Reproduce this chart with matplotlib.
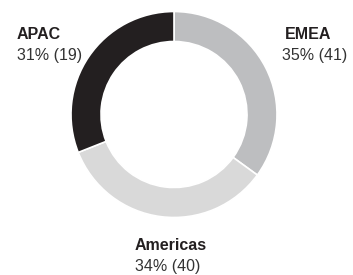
import matplotlib
matplotlib.use("Agg")
from matplotlib import pyplot as plt

regions = ["EMEA", "Americas", "APAC"]
shares = [35, 34, 31]
counts = [41, 40, 19]
colors = ["#bdbec0", "#d9d9d9", "#231f20"]

W, H = 353, 275
fig = plt.figure(figsize=(W/100, H/100), dpi=100)
ax = fig.add_axes([0, 0, 1, 1])
ax.axis("off")

ax.pie(shares, colors=colors, startangle=90, counterclock=False,
       center=(174, H-114.5), radius=103,
       wedgeprops=dict(width=30, edgecolor="white", linewidth=1.2))
ax.set_xlim(0, W)
ax.set_ylim(0, H)
ax.set_aspect("equal")

font = "Liberation Sans"
# label positions in pixels (x, baseline of name, alignment)
pos = {"APAC": (17, 39, "left"), "EMEA": (331, 39, "right"), "Americas": (135, 250, "left")}
for name, s, c in zip(regions, shares, counts):
    x, y, ha = pos[name]
    ax.text(x, H-y, name, ha=ha, va="baseline", fontsize=11.5, fontweight="bold",
            family=font, color="#231f20")
    x2 = 347 if name == "EMEA" else x
    ax.text(x2, H-y-21, f"{s}% ({c})", ha=ha, va="baseline", fontsize=11.5,
            family=font, color="#333333")

fig.savefig("out.png", dpi=100)
